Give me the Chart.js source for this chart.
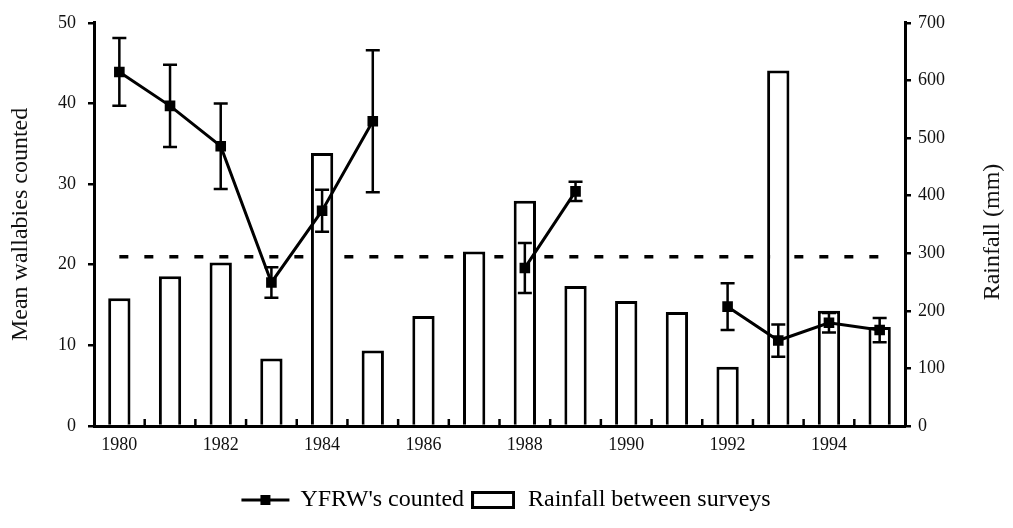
<!DOCTYPE html>
<html>
<head>
<meta charset="utf-8">
<script src="https://cdn.jsdelivr.net/npm/chart.js@4/dist/chart.umd.min.js"></script>
<style>
  html, body { margin: 0; padding: 0; background: #fff; }
  #wrap { width: 1013px; height: 528px; }
</style>
</head>
<body>
<div id="wrap"><canvas id="wallaby-chart" width="1013" height="528"></canvas></div>
<script>
var years = ['1980','1981','1982','1983','1984','1985','1986','1987','1988','1989','1990','1991','1992','1993','1994','1995'];
var wallabies = [43.9, 39.7, 34.7, 17.8, 26.7, 37.8, null, null, 19.6, 29.1, null, null, 14.8, 10.6, 12.8, 11.9];
var wallabyErr = [4.2, 5.1, 5.3, 1.9, 2.6, 8.8, null, null, 3.1, 1.2, null, null, 2.9, 2.0, 1.2, 1.5];
var rainfall = [222, 260, 284, 117, 474, 131, 191, 303, 391, 243, 217, 198, 103, 617, 200, 172];
var meanCount = [21, 21, 21, 21, 21, 21, 21, 21, 21, 21, 21, 21, 21, 21, 21, 21];

var serif = "'Liberation Serif', 'DejaVu Serif', serif";

// little pictures for the legend
var lineIcon = document.createElement('canvas');
lineIcon.width = 50; lineIcon.height = 14;
(function(){
  var c = lineIcon.getContext('2d');
  c.strokeStyle = '#000'; c.lineWidth = 3;
  c.beginPath(); c.moveTo(1, 7); c.lineTo(49, 7); c.stroke();
  c.fillStyle = '#000'; c.fillRect(20, 2, 10, 10);
})();
var boxIcon = document.createElement('canvas');
boxIcon.width = 44; boxIcon.height = 18;
(function(){
  var c = boxIcon.getContext('2d');
  c.strokeStyle = '#000'; c.lineWidth = 3;
  c.strokeRect(1.5, 1.5, 41, 15);
})();

var errorBars = {
  id: 'errorBars',
  afterDatasetsDraw: function(chart) {
    var ctx = chart.ctx, y = chart.scales.y;
    var meta = chart.getDatasetMeta(0);
    ctx.save();
    ctx.strokeStyle = '#000';
    ctx.lineWidth = 2.5;
    meta.data.forEach(function(pt, i) {
      if (wallabies[i] == null) return;
      var top = y.getPixelForValue(wallabies[i] + wallabyErr[i]);
      var bot = y.getPixelForValue(wallabies[i] - wallabyErr[i]);
      ctx.beginPath();
      ctx.moveTo(pt.x, top); ctx.lineTo(pt.x, bot);
      ctx.moveTo(pt.x - 7, top); ctx.lineTo(pt.x + 7, top);
      ctx.moveTo(pt.x - 7, bot); ctx.lineTo(pt.x + 7, bot);
      ctx.stroke();
    });
    ctx.restore();
  }
};

var innerTicks = {
  id: 'innerTicks',
  afterDraw: function(chart) {
    var ctx = chart.ctx, x = chart.scales.x, area = chart.chartArea;
    ctx.save();
    ctx.strokeStyle = '#000';
    ctx.lineWidth = 2.5;
    for (var i = 1; i < years.length; i++) {
      var px = (x.getPixelForValue(i - 1) + x.getPixelForValue(i)) / 2;
      ctx.beginPath();
      ctx.moveTo(px, area.bottom); ctx.lineTo(px, area.bottom - 7);
      ctx.stroke();
    }
    // right axis title reads bottom to top
    ctx.fillStyle = '#111';
    ctx.font = '24px ' + serif;
    ctx.textAlign = 'center';
    ctx.textBaseline = 'middle';
    ctx.translate(993, 232);
    ctx.rotate(-Math.PI / 2);
    ctx.fillText('Rainfall (mm)', 0, 0);
    ctx.restore();
  }
};

new Chart(document.getElementById('wallaby-chart'), {
  type: 'bar',
  data: {
    labels: years,
    datasets: [{
      type: 'line',
      label: "YFRW's counted",
      data: wallabies,
      yAxisID: 'y',
      borderColor: '#000',
      borderWidth: 3,
      backgroundColor: '#000',
      pointStyle: 'rect',
      pointRadius: 7.5,
      pointBackgroundColor: '#000',
      pointBorderWidth: 0,
      spanGaps: false,
      tension: 0,
      order: 0
    }, {
      type: 'bar',
      label: 'Rainfall between surveys',
      data: rainfall,
      yAxisID: 'y2',
      backgroundColor: '#fff',
      borderColor: '#000',
      borderWidth: 3,
      barPercentage: 0.44,
      categoryPercentage: 1,
      order: 1
    }, {
      type: 'line',
      label: 'mean',
      data: meanCount,
      yAxisID: 'y',
      borderColor: '#000',
      borderWidth: 3.5,
      borderDash: [9, 16],
      pointRadius: 0,
      order: 2
    }]
  },
  options: {
    responsive: false,
    animation: false,
    layout: { padding: { top: 19, bottom: 6, left: 0, right: 0 } },
    plugins: {
      tooltip: { enabled: false },
      legend: {
        position: 'bottom',
        labels: {
          color: '#111',
          font: { family: serif, size: 24 },
          usePointStyle: true,
          pointStyleWidth: 46,
          padding: 6,
          generateLabels: function(chart) {
            return [
              { text: "YFRW's counted", pointStyle: lineIcon, fillStyle: '#000', strokeStyle: '#000', lineWidth: 0, datasetIndex: 0 },
              { text: 'Rainfall between surveys', pointStyle: boxIcon, fillStyle: '#fff', strokeStyle: '#000', lineWidth: 0, datasetIndex: 1 }
            ];
          }
        }
      }
    },
    scales: {
      x: {
        grid: { display: false, offset: true },
        border: { display: true, color: '#000', width: 3 },
        ticks: {
          color: '#111',
          font: { family: serif, size: 18 },
          autoSkip: false,
          maxRotation: 0,
          padding: 0,
          callback: function(v, i) { return i % 2 === 0 ? years[i] : ''; }
        },
        afterFit: function(s) { s.height = 56; }
      },
      y: {
        position: 'left',
        min: 0, max: 50,
        ticks: { stepSize: 10, color: '#111', font: { family: serif, size: 18 }, padding: 12 },
        grid: { drawOnChartArea: false, drawTicks: true, tickLength: 6, color: '#000', lineWidth: 2.5 },
        border: { display: true, color: '#000', width: 3 },
        title: { display: true, text: 'Mean wallabies counted', color: '#111', font: { family: serif, size: 24 }, padding: { top: 6, bottom: 0 } },
        afterFit: function(s) { s.width = 94; }
      },
      y2: {
        position: 'right',
        min: 0, max: 700,
        ticks: { stepSize: 100, color: '#111', font: { family: serif, size: 18 }, padding: 7 },
        grid: { drawOnChartArea: false, drawTicks: true, tickLength: 6, color: '#000', lineWidth: 2.5 },
        border: { display: true, color: '#000', width: 3 },
        afterFit: function(s) { s.width = 108; }
      }
    }
  },
  plugins: [errorBars, innerTicks]
});
</script>
</body>
</html>
